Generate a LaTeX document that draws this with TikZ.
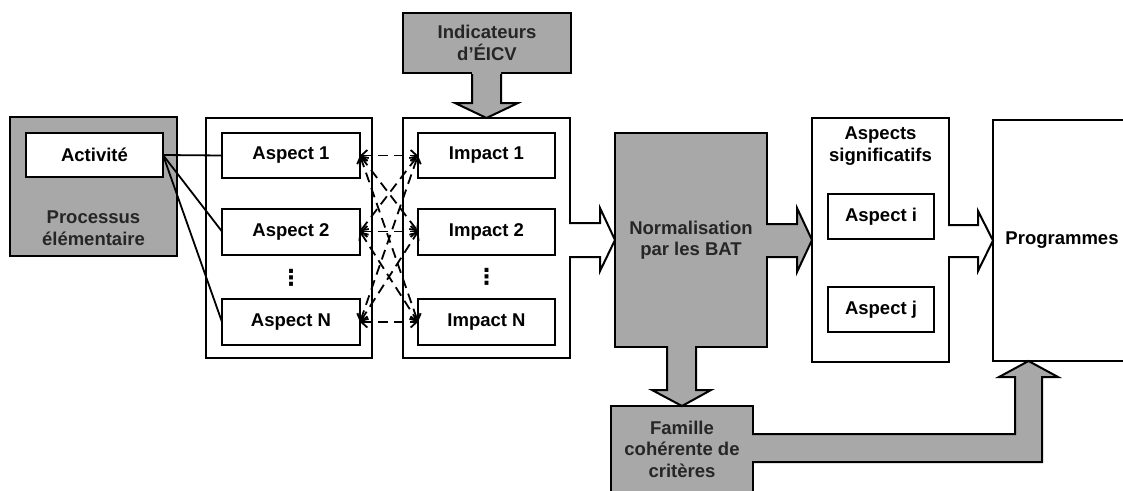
\documentclass[tikz,border=0pt]{standalone}
\usepackage{fontspec}
\setmainfont{Liberation Sans}
\newfontfamily\dejavu{DejaVu Sans}
\usetikzlibrary{arrows.meta,calc}
\definecolor{grayfill}{gray}{0.66}
\begin{document}
\begin{tikzpicture}[x=1pt,y=-1pt,
  every node/.style={font=\bfseries\fontsize{18.5}{21.5}\selectfont, inner sep=0pt, outer sep=0pt},
  box/.style={draw, line width=2pt, fill=white},
  graybox/.style={draw, line width=2pt, fill=grayfill},
  graytext/.style={text=black!85, align=center},
  wtext/.style={align=center},
  lnk/.style={line width=1.8pt},
  dlink/.style={line width=1.8pt, dash pattern=on 10pt off 6pt, {Straight Barb[length=6pt,width=11pt]}-{Straight Barb[length=6pt,width=11pt]}},
  arr/.style={line width=2pt, line join=miter},
  dots/.style={font=\dejavu\bfseries\fontsize{22}{22}\selectfont},
]
\useasboundingbox (0,0) rectangle (1123,490);

% Processus elementaire
\node[graybox, minimum width=167pt, minimum height=139pt] (proc) at (93.5,186.5) {};
\node[box, minimum width=137pt, minimum height=44pt] (act) at (94.5,155) {Activité};
\node[graytext] (proct) at (93.5,228) {Processus\\élémentaire};

% Aspects
\node[box, minimum width=166pt, minimum height=240pt] (aspC) at (289,238) {};
\node[box, minimum width=138pt, minimum height=45pt] (a1) at (291,155.5) {Aspect 1};
\node[box, minimum width=138pt, minimum height=46pt] (a2) at (291,231.5) {Aspect 2};
\node[box, minimum width=138pt, minimum height=46pt] (aN) at (291,322) {Aspect N};
\node[dots] (adots) at (291,278) {⋮};

% Impacts
\node[box, minimum width=167pt, minimum height=240pt] (impC) at (486.5,238) {};
\node[box, minimum width=137pt, minimum height=45pt] (i1) at (486.5,155.5) {Impact 1};
\node[box, minimum width=137pt, minimum height=46pt] (i2) at (486.5,231.5) {Impact 2};
\node[box, minimum width=137pt, minimum height=46pt] (iN) at (486.5,322) {Impact N};
\node[dots] (idots) at (486.5,277) {⋮};

% Indicateurs
\node[graybox, graytext, minimum width=168pt, minimum height=60pt] (ind) at (487,43) {Indicateurs\\d’ÉICV};

% Normalisation
\node[graybox, graytext, minimum width=152pt, minimum height=214pt] (norm) at (691,240) {Normalisation\\par les BAT};

% Aspects significatifs
\node[box, minimum width=137pt, minimum height=244pt] (asig) at (880.5,240) {};
\node[wtext] (asigt) at (880.5,146) {Aspects\\significatifs};
\node[box, minimum width=106pt, minimum height=45pt] (ai) at (881,216.5) {Aspect i};
\node[box, minimum width=106pt, minimum height=45pt] (aj) at (881,309.5) {Aspect j};

% Programmes
\node[minimum width=130pt, minimum height=241pt, anchor=west] (prog) at (993,240.5) {};
\draw[line width=2pt] (prog.north east) -- (prog.north west) -- (prog.south west) -- (prog.south east);
\node (progt) at (1062,240) {Programmes};

% Famille
\node[graybox, minimum width=142pt, minimum height=86pt] (fam) at (682,449) {};
\node[graytext] (famt) at (682,449) {Famille\\cohérente de\\critères};

% links from activity
\foreach \a in {a1,a2,aN} \draw[lnk] (act.east) -- (\a.west);

% dashed links aspects <-> impacts
\foreach \a in {a1,a2,aN}
  \foreach \i in {i1,i2,iN}
    \draw[dlink] (\a.east) -- (\i.west);

% block arrow: Indicateurs -> impacts
\fill[grayfill] (472,70) -- (472,103) -- (455,103) -- (impC.north) -- (518,103) -- (501,103) -- (501,70) -- cycle;
\draw[arr] (472,74) -- (472,103) -- (455,103) -- (impC.north) -- (518,103) -- (501,103) -- (501,74);

% block arrow: impacts -> normalisation (white)
\fill[white] (567,223) -- (600,223) -- (600,208) -- (norm.west) -- (600,271) -- (600,257) -- (567,257) -- cycle;
\draw[arr] (569,223) -- (600,223) -- (600,208) -- (norm.west) -- (600,271) -- (600,257) -- (569,257);

% block arrow: normalisation -> aspects significatifs (gray)
\fill[grayfill] (764,224) -- (797,224) -- (797,208) -- (asig.west) -- (797,272) -- (797,257) -- (764,257) -- cycle;
\draw[arr] (766,224) -- (797,224) -- (797,208) -- (asig.west) -- (797,272) -- (797,257) -- (766,257);

% block arrow: aspects significatifs -> programmes (white)
\fill[white] (946,225) -- (978,225) -- (978,211) -- (prog.west) -- (978,271) -- (978,257) -- (946,257) -- cycle;
\draw[arr] (948,225) -- (978,225) -- (978,211) -- (prog.west) -- (978,271) -- (978,257) -- (948,257);

% block arrow: normalisation -> famille (gray)
\fill[grayfill] (667,344) -- (667,390) -- (652,390) -- (fam.north) -- (711,390) -- (696,390) -- (696,344) -- cycle;
\draw[arr] (667,346) -- (667,390) -- (652,390) -- (fam.north) -- (711,390) -- (696,390) -- (696,346);

% block arrow: famille -> programmes (gray, L-shaped)
\coordinate (ftip) at ($(prog.south west)+(35.5,0)$);
\fill[grayfill] (750,434) -- (1015,434) -- (1015,377) -- (999,377) -- (ftip) -- (1058,377) -- (1042,377) -- (1042,462) -- (750,462) -- cycle;
\draw[arr] (752,434) -- (1015,434) -- (1015,377) -- (999,377) -- (ftip) -- (1058,377) -- (1042,377) -- (1042,462) -- (752,462);
\end{tikzpicture}
\end{document}
